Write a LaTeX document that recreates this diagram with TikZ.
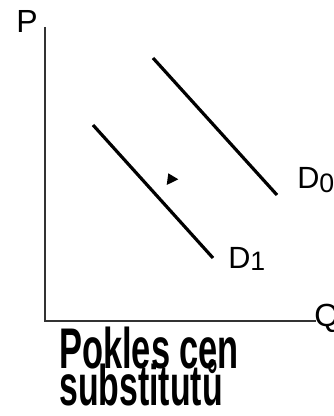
\documentclass[tikz,border=0pt]{standalone}
\usepackage{fontspec}
\setmainfont{Liberation Sans}
\usepackage{tikz}

\begin{document}
\begin{tikzpicture}[x=0.75pt,y=-0.75pt]
\useasboundingbox (0,0) rectangle (333,416);
\clip (0,0) rectangle (333,416);
\coordinate (top) at (45,27);
\coordinate (origin) at (45,321);
\coordinate (right) at (316,321);
\draw[line width=0.8pt,black!80] (top) -- (origin) -- (right);
\draw[line width=2.4pt] (153,58) coordinate (d0start) -- (277,195) coordinate (d0end);
\draw[line width=2.4pt] (93,125) coordinate (d1start) -- (213,258) coordinate (d1end);
\fill (168.3,173.3) -- (178.3,179.3) -- (166.7,185) -- cycle;
\node[anchor=base west,inner sep=0pt,font=\fontsize{24}{24}\selectfont] (plabel) at (16,33) {P};
\node[anchor=base west,inner sep=0pt,font=\fontsize{24}{24}\selectfont] (qlabel) at (314,326) {Q};
\node[anchor=base west,inner sep=0pt,font=\fontsize{23}{23}\selectfont] (d0label) at (297,189) {D\raisebox{-3pt}{\fontsize{20}{20}\selectfont 0}};
\node[anchor=base west,inner sep=0pt,font=\fontsize{23}{23}\selectfont] (d1label) at (228,268) {D\raisebox{-2pt}{\fontsize{20}{20}\selectfont 1}};
\node[anchor=base west,inner sep=0pt,font=\fontsize{43}{43}\selectfont\bfseries] (title) at (59,368) {\scalebox{0.6}[1]{Pokles cen}};
\node[anchor=base west,inner sep=0pt,font=\fontsize{43}{43}\selectfont\bfseries] (subtitle) at (59,405) {\scalebox{0.59}[1]{substitutů}};
\end{tikzpicture}
\end{document}
